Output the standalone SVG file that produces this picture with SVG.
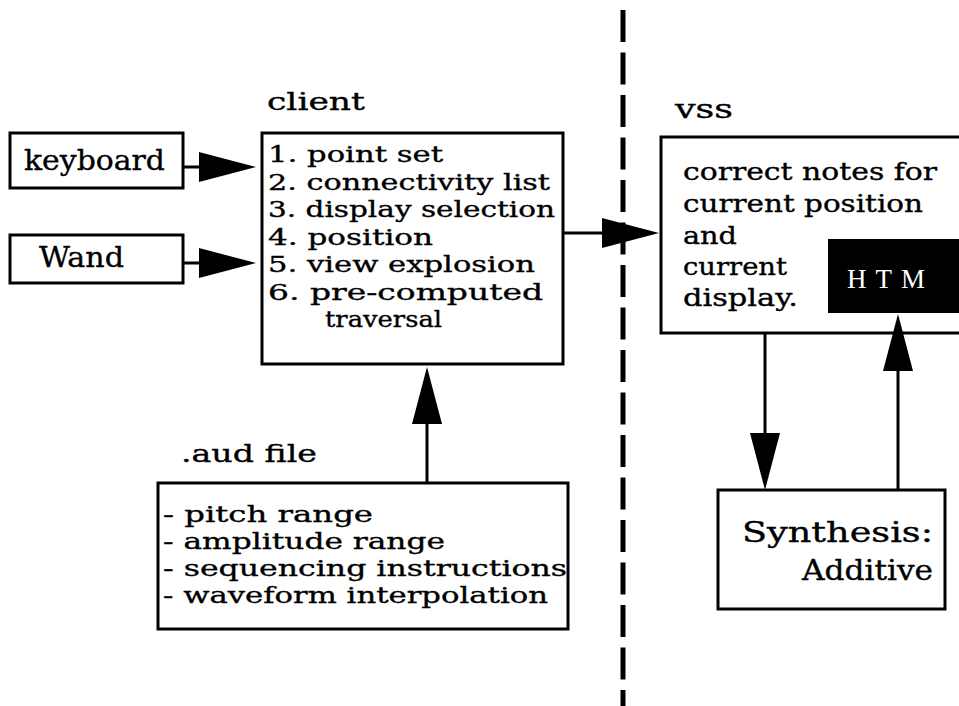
<svg xmlns="http://www.w3.org/2000/svg" width="959" height="706" viewBox="0 0 959 706">
<style>
.box{fill:#fff;stroke:#000;stroke-width:3}
.t{font-family:"DejaVu Serif","Liberation Serif",serif;fill:#000;stroke:#000;stroke-width:0.35}
.ln{stroke:#000;stroke-width:3;fill:none}
</style>
<defs>
<marker id="ah" markerUnits="userSpaceOnUse" markerWidth="60" markerHeight="32" refX="1" refY="15" orient="auto" viewBox="0 0 60 32">
<path d="M0,0 L57,15 L0,30 Z" fill="#000"/>
</marker>
</defs>
<rect width="959" height="706" fill="#fff"/>
<line x1="623" y1="10" x2="623" y2="706" stroke="#000" stroke-width="5" stroke-dasharray="32 10.5"/>
<g id="keyboard">
<rect class="box" x="10" y="133" width="173" height="55"/>
<text class="t" x="24" y="170" font-size="27" textLength="141" lengthAdjust="spacingAndGlyphs">keyboard</text>
</g>
<g id="wand">
<rect class="box" x="10" y="235" width="173" height="48"/>
<text class="t" x="39" y="267" font-size="27" textLength="85" lengthAdjust="spacingAndGlyphs">Wand</text>
</g>
<g id="client">
<text class="t" x="267" y="110" font-size="25" textLength="98" lengthAdjust="spacingAndGlyphs">client</text>
<rect class="box" x="262" y="133" width="301" height="231"/>
<text class="t" font-size="23">
<tspan x="268" y="162" textLength="175" lengthAdjust="spacingAndGlyphs">1. point set</tspan>
<tspan x="268" y="189.5" textLength="282" lengthAdjust="spacingAndGlyphs">2. connectivity list</tspan>
<tspan x="268" y="217" textLength="287" lengthAdjust="spacingAndGlyphs">3. display selection</tspan>
<tspan x="268" y="244.5" textLength="165" lengthAdjust="spacingAndGlyphs">4. position</tspan>
<tspan x="268" y="272" textLength="267" lengthAdjust="spacingAndGlyphs">5. view explosion</tspan>
<tspan x="268" y="299.5" textLength="275" lengthAdjust="spacingAndGlyphs">6.  pre-computed</tspan>
<tspan x="325" y="327" textLength="117" lengthAdjust="spacingAndGlyphs">traversal</tspan>
</text>
</g>
<g id="aud">
<text class="t" x="181" y="462" font-size="25" textLength="136" lengthAdjust="spacingAndGlyphs">.aud file</text>
<rect class="box" x="158" y="483" width="410" height="146"/>
<text class="t" font-size="23">
<tspan x="163" y="522" textLength="210" lengthAdjust="spacingAndGlyphs">- pitch range</tspan>
<tspan x="163" y="549" textLength="282" lengthAdjust="spacingAndGlyphs">- amplitude range</tspan>
<tspan x="163" y="576" textLength="404" lengthAdjust="spacingAndGlyphs">- sequencing instructions</tspan>
<tspan x="163" y="603" textLength="385" lengthAdjust="spacingAndGlyphs">- waveform interpolation</tspan>
</text>
</g>
<g id="vss">
<text class="t" x="675" y="118" font-size="26" textLength="58" lengthAdjust="spacingAndGlyphs">vss</text>
<rect class="box" x="661" y="137" width="305" height="196"/>
<text class="t" font-size="24">
<tspan x="683" y="180" textLength="254" lengthAdjust="spacingAndGlyphs">correct notes for</tspan>
<tspan x="683" y="212" textLength="240" lengthAdjust="spacingAndGlyphs">current position</tspan>
<tspan x="683" y="244" textLength="54" lengthAdjust="spacingAndGlyphs">and</tspan>
<tspan x="683" y="275" textLength="104" lengthAdjust="spacingAndGlyphs">current</tspan>
<tspan x="683" y="306" textLength="115" lengthAdjust="spacingAndGlyphs">display.</tspan>
</text>
</g>
<g id="htm">
<rect x="828" y="239" width="135" height="74" fill="#000"/>
<text x="847" y="288" font-family="'Liberation Serif',serif" font-size="27" fill="#fff" textLength="78">H T M</text>
</g>
<g id="synthesis">
<rect class="box" x="718" y="490" width="227" height="119"/>
<text class="t" font-size="27">
<tspan x="742" y="542" textLength="191" lengthAdjust="spacingAndGlyphs">Synthesis:</tspan>
<tspan x="802" y="580" textLength="131" lengthAdjust="spacingAndGlyphs">Additive</tspan>
</text>
</g>
<g id="connectors">
<line class="ln" x1="183" y1="167" x2="200" y2="167" marker-end="url(#ah)"/>
<line class="ln" x1="183" y1="263" x2="200" y2="263" marker-end="url(#ah)"/>
<line class="ln" x1="563" y1="233" x2="603" y2="233" marker-end="url(#ah)"/>
<line class="ln" x1="765" y1="333" x2="765" y2="434" marker-end="url(#ah)"/>
<line class="ln" x1="898" y1="490" x2="898" y2="370" marker-end="url(#ah)"/>
<line class="ln" x1="427" y1="483" x2="427" y2="423" marker-end="url(#ah)"/>
</g>
</svg>
